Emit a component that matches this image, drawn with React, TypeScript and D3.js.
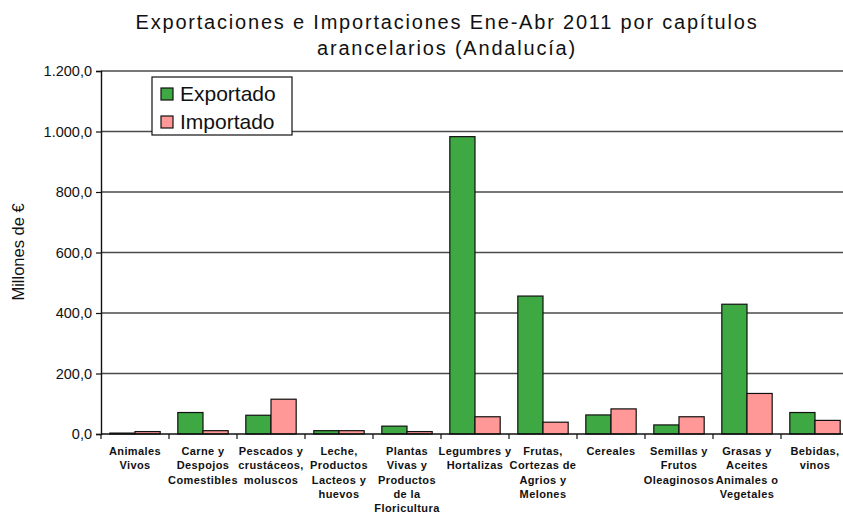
import React, { useRef, useEffect } from "react";
import * as d3 from "d3";

const categories: string[][] = [
  ["Animales", "Vivos"],
  ["Carne y", "Despojos", "Comestibles"],
  ["Pescados y", "crustáceos,", "moluscos"],
  ["Leche,", "Productos", "Lacteos y", "huevos"],
  ["Plantas", "Vivas y", "Productos", "de la", "Floricultura"],
  ["Legumbres y", "Hortalizas"],
  ["Frutas,", "Cortezas de", "Agrios y", "Melones"],
  ["Cereales"],
  ["Semillas y", "Frutos", "Oleaginosos"],
  ["Grasas y", "Aceites", "Animales o", "Vegetales"],
  ["Bebidas,", "vinos"],
];
const exportado = [3, 71, 62, 11, 26, 983, 456, 63, 30, 429, 71];
const importado = [8, 11, 115, 11, 8, 57, 39, 83, 57, 134, 45];
const yTicks = [0, 200, 400, 600, 800, 1000, 1200];
const seriesNames = ["Exportado", "Importado"];
const seriesColors = ["#3ea843", "#ff9896"];

const App = () => {
  const ref = useRef<SVGSVGElement>(null);
  const width = 843;
  const height = 513;
  const margin = { top: 71, left: 101, bottom: 434 };

  useEffect(() => {
    const svg = d3.select(ref.current);
    svg.selectAll("*").remove();

    const x = d3
      .scaleBand<number>()
      .domain(d3.range(categories.length))
      .range([margin.left, margin.left + 68 * categories.length]);
    const inner = d3
      .scaleBand<number>()
      .domain([0, 1])
      .range([0, x.bandwidth()])
      .paddingOuter(0.35)
      .paddingInner(0);
    const y = d3.scaleLinear().domain([0, 1200]).range([margin.bottom, margin.top]);

    // 1.200,0 style numbers
    const fmt = (v: number) =>
      d3.format(",.1f")(v).replace(/,/g, "#").replace(".", ",").replace(/#/g, ".");

    // title
    const title = svg
      .append("text")
      .attr("text-anchor", "middle")
      .attr("font-family", "Liberation Sans, Arial, sans-serif")
      .attr("font-size", 20)
      .attr("letter-spacing", 1.8)
      .attr("fill", "#111");
    title.append("tspan").attr("x", 447).attr("y", 29).text("Exportaciones e Importaciones Ene-Abr 2011 por capítulos");
    title.append("tspan").attr("x", 447).attr("y", 55).text("arancelarios (Andalucía)");

    // grid
    svg
      .append("g")
      .selectAll("line")
      .data(yTicks.filter((d) => d > 0))
      .join("line")
      .attr("x1", margin.left)
      .attr("x2", width)
      .attr("y1", (d) => y(d))
      .attr("y2", (d) => y(d))
      .attr("stroke", "#4a4a4a")
      .attr("stroke-width", 1.4);

    // y axis
    const yAxis = svg
      .append("g")
      .attr("transform", `translate(${margin.left},0)`)
      .call(d3.axisLeft(y).tickValues(yTicks).tickSize(5).tickPadding(4).tickFormat((d) => fmt(+d)));
    yAxis.select(".domain").attr("stroke", "#111").attr("stroke-width", 1.4);
    yAxis.selectAll(".tick line").attr("stroke", "#111").attr("stroke-width", 1.2);
    yAxis
      .selectAll(".tick text")
      .attr("font-family", "Liberation Sans, Arial, sans-serif")
      .attr("font-size", 14.5)
      .attr("fill", "#111");

    svg
      .append("text")
      .attr("transform", "translate(24,252) rotate(-90)")
      .attr("text-anchor", "middle")
      .attr("font-family", "Liberation Sans, Arial, sans-serif")
      .attr("font-size", 16.5)
      .attr("fill", "#111")
      .text("Millones de €");

    // bars
    const data = [exportado, importado];
    data.forEach((vals, s) => {
      svg
        .append("g")
        .selectAll("rect")
        .data(vals)
        .join("rect")
        .attr("x", (_, i) => (x(i) as number) + (inner(s) as number))
        .attr("y", (d) => y(d))
        .attr("width", inner.bandwidth())
        .attr("height", (d) => y(0) - y(d))
        .attr("fill", seriesColors[s])
        .attr("stroke", "#111")
        .attr("stroke-width", 1.2);
    });

    // x axis
    svg
      .append("line")
      .attr("x1", margin.left)
      .attr("x2", width)
      .attr("y1", y(0))
      .attr("y2", y(0))
      .attr("stroke", "#111")
      .attr("stroke-width", 1.4);
    svg
      .append("g")
      .selectAll("line")
      .data(d3.range(categories.length + 1))
      .join("line")
      .attr("x1", (i) => margin.left + i * x.step())
      .attr("x2", (i) => margin.left + i * x.step())
      .attr("y1", y(0))
      .attr("y2", y(0) + 5)
      .attr("stroke", "#111")
      .attr("stroke-width", 1.2);

    const labels = svg
      .append("g")
      .selectAll("text")
      .data(categories)
      .join("text")
      .attr("text-anchor", "middle")
      .attr("font-family", "Liberation Sans, Arial, sans-serif")
      .attr("font-size", 11)
      .attr("font-weight", "bold")
      .attr("letter-spacing", 0.4)
      .attr("fill", "#111");
    labels
      .selectAll("tspan")
      .data((d, i) => d.map((line) => ({ line, i })))
      .join("tspan")
      .attr("x", (d) => (x(d.i) as number) + x.bandwidth() / 2)
      .attr("y", (_, j) => 455 + j * 14.3)
      .text((d) => d.line);

    // legend
    const legend = svg.append("g").attr("transform", "translate(152,77)");
    legend
      .append("rect")
      .attr("width", 140)
      .attr("height", 58)
      .attr("fill", "#fff")
      .attr("stroke", "#111")
      .attr("stroke-width", 1.2);
    seriesNames.forEach((name, s) => {
      legend
        .append("rect")
        .attr("x", 9)
        .attr("y", 11 + s * 28)
        .attr("width", 12)
        .attr("height", 12)
        .attr("fill", seriesColors[s])
        .attr("stroke", "#111")
        .attr("stroke-width", 1.2);
      legend
        .append("text")
        .attr("x", 28)
        .attr("y", 24 + s * 28)
        .attr("font-family", "Liberation Sans, Arial, sans-serif")
        .attr("font-size", 21)
        .attr("fill", "#111")
        .text(name);
    });
  }, []);

  return (
    <svg
      ref={ref}
      width={width}
      height={height}
      style={{ position: "absolute", left: 0, top: 0, background: "#fff" }}
    ></svg>
  );
};

export default App;
